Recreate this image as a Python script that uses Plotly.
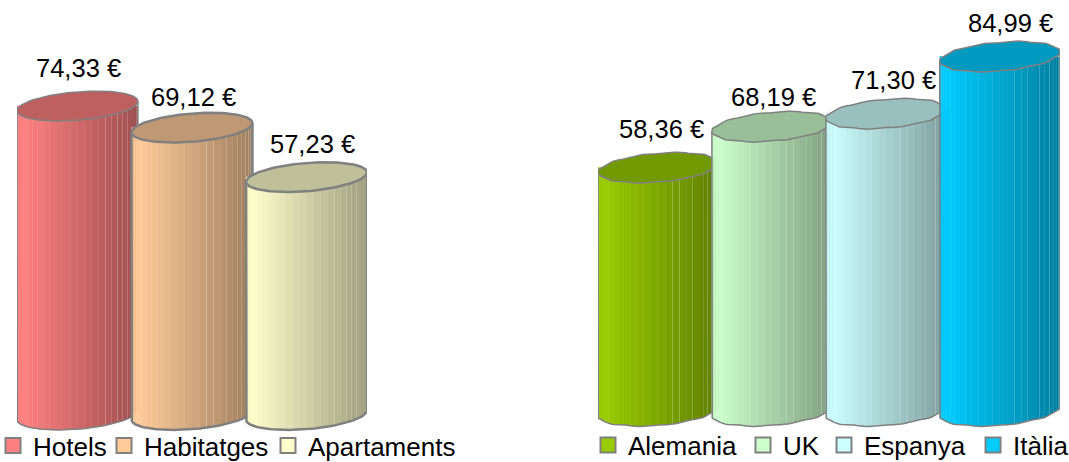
import numpy as np
import plotly.graph_objects as go

# ---- data ----
left_names = ["Hotels", "Habitatges", "Apartaments"]
left_values = [74.33, 69.12, 57.23]
left_labels = ["74,33 €", "69,12 €", "57,23 €"]
right_names = ["Alemania", "UK", "Espanya", "Itàlia"]
right_values = [58.36, 68.19, 71.30, 84.99]
right_labels = ["58,36 €", "68,19 €", "71,30 €", "84,99 €"]

# ---- styles ----
left_colors = [(255, 128, 128), (255, 204, 153), (255, 255, 204)]
right_colors = [(153, 204, 0), (204, 255, 204), (204, 255, 255), (0, 204, 255)]
left_line = [1.5, 2.5, 2.5]
right_line = [1.5, 1.5, 1.5, 1.5]
left_shift = [(1, 38), (1, 31), (6, 33)]
right_shift = [(3, 39), (1, 30), (8, 34), (11, 34)]
left_legend_px = [17, 128, 292]
right_legend_px = [612, 767, 848, 997]
GREY = "#808080"
FONT = "Liberation Sans, Arial, sans-serif"
PX_W, PX_H = 1069, 462

HALF = 0.528      # half width of a cylinder, category units
TILT = 1.13       # tilt of the ellipse, value units
MINOR = 3.4       # half height of the ellipse, value units
N_STRIPS = 26


def ring(t, wobble):
    """Offsets of a tilted ellipse for the angles t."""
    dx = HALF * np.cos(t)
    dy = TILT * np.cos(t) + MINOR * np.sin(t) + wobble * np.sin(11 * t + 0.6)
    return dx, dy


def shade(rgb, k):
    return "rgb(%d,%d,%d)" % tuple(int(round(c * k)) for c in rgb)


def cylinder(fig, pos, value, rgb, lw, xa, ya, wobble):
    edges = np.linspace(np.pi, 2 * np.pi, N_STRIPS + 1)
    common = dict(xaxis=xa, yaxis=ya, showlegend=False, hoverinfo="skip")
    for t0, t1 in zip(edges[:-1], edges[1:]):
        ts = np.linspace(t0, t1, 3)
        dx, dy = ring(ts, wobble)
        xs = pos + dx
        f = (0.5 * (dx[0] + dx[-1]) + HALF) / (2 * HALF)
        k = 0.62 + 0.40 * (1 - f) if f > 0.06 else 0.96 + f * 0.7
        k = min(k, 1.0)
        col = shade(rgb, k)
        seam = dict(width=0.7, color=col) if f < 0.55 else dict(width=0)
        fig.add_trace(go.Scatter(
            x=np.r_[xs, xs[::-1]],
            y=np.r_[dy, np.full(3, value)],
            mode="lines", line=seam, fill="toself",
            fillcolor=col, **common))
    # outline of the body
    ts = np.linspace(np.pi, 2 * np.pi, 60)
    dx, dy = ring(ts, wobble)
    fig.add_trace(go.Scatter(
        x=np.r_[pos - HALF, pos + dx, pos + HALF],
        y=np.r_[value - TILT, dy, value + TILT],
        mode="lines", line=dict(color=GREY, width=lw), **common))
    # top ellipse
    ts = np.linspace(0, 2 * np.pi, 121)
    dx, dy = ring(ts, wobble)
    fig.add_trace(go.Scatter(
        x=pos + dx, y=value + dy, mode="lines",
        line=dict(color=GREY, width=lw), fill="toself",
        fillcolor=shade(rgb, 0.75), **common))


fig = go.Figure()

for i, (v, c, lw) in enumerate(zip(left_values, left_colors, left_line)):
    cylinder(fig, i, v, c, lw, "x", "y", 0)
for i, (v, c, lw) in enumerate(zip(right_values, right_colors, right_line)):
    cylinder(fig, i, v, c, lw, "x2", "y2", 0.14)

# legends: one entry each, so that every swatch sits where it should
names = left_names + right_names
colors = left_colors + right_colors
lpx = left_legend_px + right_legend_px
legend_layout = {}
for i, (n, c, px) in enumerate(zip(names, colors, lpx)):
    key = "legend" if i == 0 else "legend%d" % (i + 1)
    fig.add_trace(go.Scatter(
        x=[None], y=[None], name=n, mode="markers",
        marker=dict(symbol="square", size=15, color=shade(c, 1),
                    line=dict(color=GREY, width=2)),
        legend=key, showlegend=True, xaxis="x", yaxis="y"))
    legend_layout[key] = dict(
        x=(px - 16) / PX_W, xanchor="left",
        y=1 - (445.5 if i < 3 else 445) / PX_H, yanchor="middle",
        bgcolor="rgba(0,0,0,0)", borderwidth=0, itemwidth=30, indentation=-8,
        font=dict(family=FONT, size=26, color="black"))

annots = []
for i, (v, t, s) in enumerate(zip(left_values, left_labels, left_shift)):
    annots.append(dict(x=i, y=v, xref="x", yref="y", text=t, showarrow=False,
                       xshift=s[0], yshift=s[1], font=dict(family=FONT, size=25.5, color="black")))
for i, (v, t, s) in enumerate(zip(right_values, right_labels, right_shift)):
    annots.append(dict(x=i, y=v, xref="x2", yref="y2", text=t, showarrow=False,
                       xshift=s[0], yshift=s[1], font=dict(family=FONT, size=25.5, color="black")))

hidden = dict(visible=False, showgrid=False, zeroline=False, fixedrange=True)
fig.update_layout(
    width=PX_W, height=PX_H,
    margin=dict(l=0, r=0, t=0, b=0, pad=0, autoexpand=False),
    plot_bgcolor="white", paper_bgcolor="white",
    xaxis=dict(domain=[17 / PX_W, 367 / PX_W], range=[-0.528, 2.528], **hidden),
    yaxis=dict(domain=[0, 1], range=[(415 - PX_H) / 4.157, 415 / 4.157], anchor="x", **hidden),
    xaxis2=dict(domain=[598 / PX_W, 1060 / PX_W], range=[-0.528, 3.528], **hidden),
    yaxis2=dict(domain=[0, 1], range=[(411 - PX_H) / 4.17, 411 / 4.17], anchor="x2", **hidden),
    annotations=annots,
    **legend_layout,
)

fig.write_html("out.html", config=dict(displayModeBar=False),
               post_script="document.body.style.margin='0';document.body.style.overflow='hidden';")
